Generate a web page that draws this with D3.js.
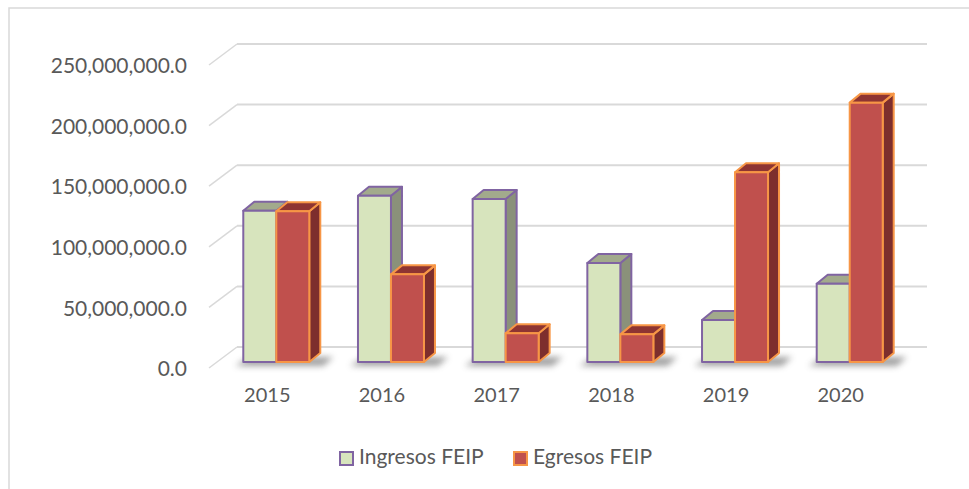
<!DOCTYPE html>
<html>
<head>
<meta charset="utf-8">
<script src="https://cdn.jsdelivr.net/npm/d3@7"></script>
<style>
  body { margin: 0; background: #fff; }
  text { font-family: Lato, "Open Sans", sans-serif; fill: #595959; }
</style>
</head>
<body>
<div id="chart"></div>
<script>
// Data
const years = ["2015", "2016", "2017", "2018", "2019", "2020"];
const seriesNames = ["Ingresos FEIP", "Egresos FEIP"];
const ingresos = [124800000, 137200000, 134500000, 81700000, 34700000, 64600000];
const egresos = [124300000, 72300000, 23700000, 22800000, 156500000, 214000000];
const yTicks = [0, 50000000, 100000000, 150000000, 200000000, 250000000];

const W = 969, H = 489;
// oblique 3d offsets
const depth = { dx: 11, dy: -9 };     // bar depth
const wall = { dx: 28, dy: -21 };     // side wall / floor depth
const baseFront = 362, baseBack = 347;

const colors = {
  "Ingresos FEIP": { face: "#D7E4BD", top: "#A2AA8C", side: "#8A917A", stroke: "#8064A2" },
  "Egresos FEIP": { face: "#C0504D", top: "#8E3432", side: "#7D2E2D", stroke: "#F79646" }
};

const svg = d3.select("#chart")
  .append("svg")
    .attr("width", W)
    .attr("height", H);

// chart border
svg.append("rect")
  .attr("x", 9).attr("y", 8)
  .attr("width", W + 10).attr("height", H + 10)
  .attr("fill", "none")
  .attr("stroke", "#D9D9D9")
  .attr("stroke-width", 1.5);

const defs = svg.append("defs");
defs.append("filter").attr("id", "blur")
  .attr("x", "-20%").attr("y", "-100%").attr("width", "140%").attr("height", "300%")
  .append("feGaussianBlur").attr("stdDeviation", 3);

// scales
const yPx = d3.scaleLinear().domain([0, 250000000]).range([0, 303]);

const x = d3.scaleBand()
  .domain(years)
  .range([194.6, 931.4])
  .padding(0.4245);

const xs = d3.scaleBand()
  .domain(seriesNames)
  .range([0, x.bandwidth()]);

// gridlines on back wall + side wall diagonals
const grid = svg.append("g");
yTicks.forEach(v => {
  const yb = baseBack - yPx(v);
  grid.append("line")
    .attr("x1", 209 + wall.dx).attr("y1", yb)
    .attr("x2", 927).attr("y2", yb)
    .attr("stroke", "#D9D9D9").attr("stroke-width", 2);
  grid.append("line")
    .attr("x1", 209).attr("y1", yb - wall.dy)
    .attr("x2", 209 + wall.dx).attr("y2", yb)
    .attr("stroke", "#D9D9D9").attr("stroke-width", 1.5);
});

// y axis labels
const yLab = d3.scaleLinear().domain([0, 250000000]).range([369, 66]);
const yAxis = svg.append("g")
  .attr("transform", "translate(190,0)")
  .call(d3.axisLeft(yLab).tickValues(yTicks).tickSize(0).tickPadding(3).tickFormat(d3.format(",.1f")));
yAxis.select(".domain").remove();
yAxis.selectAll("text")
  .style("font-size", "21px")
  .style("font-family", "Lato, 'Open Sans', sans-serif")
  .attr("fill", "#595959");

// x axis labels
const xAxis = svg.append("g")
  .attr("transform", "translate(-9,388)")
  .call(d3.axisBottom(x).tickSize(0).tickPadding(0));
xAxis.select(".domain").remove();
xAxis.selectAll("text")
  .style("font-size", "20px")
  .style("font-family", "Lato, 'Open Sans', sans-serif")
  .attr("fill", "#595959");

// shadows on floor
svg.append("g").selectAll("polygon")
  .data(years)
  .join("polygon")
  .attr("points", d => {
    const x0 = x(d) - 8, x1 = x(d) + x.bandwidth() + 24;
    return [[x0, 366], [x1 - 10, 366], [x1, 357], [x0 + 14, 357]].map(p => p.join(",")).join(" ");
  })
  .attr("fill", "#555")
  .attr("opacity", 0.55)
  .attr("filter", "url(#blur)");

// bars
const bars = [];
years.forEach((yr, i) => {
  bars.push({ year: yr, name: seriesNames[0], value: ingresos[i] });
  bars.push({ year: yr, name: seriesNames[1], value: egresos[i] });
});

const bw = xs.bandwidth();
const g = svg.append("g").selectAll("g")
  .data(bars)
  .join("g")
  .attr("stroke-linejoin", "round");

const pts = arr => arr.map(p => p.join(",")).join(" ");

g.each(function(d) {
  const el = d3.select(this);
  const c = colors[d.name];
  const x0 = x(d.year) + xs(d.name), x1 = x0 + bw;
  const yt = baseFront - yPx(d.value), yb = baseFront;
  // side face
  el.append("polygon")
    .attr("points", pts([[x1, yt], [x1 + depth.dx, yt + depth.dy], [x1 + depth.dx, yb + depth.dy], [x1, yb]]))
    .attr("fill", c.side).attr("stroke", c.stroke).attr("stroke-width", 2);
  // top face
  el.append("polygon")
    .attr("points", pts([[x0, yt], [x0 + depth.dx, yt + depth.dy], [x1 + depth.dx, yt + depth.dy], [x1, yt]]))
    .attr("fill", c.top).attr("stroke", c.stroke).attr("stroke-width", 2);
  // front face
  el.append("rect")
    .attr("x", x0).attr("y", yt)
    .attr("width", bw).attr("height", yb - yt)
    .attr("fill", c.face).attr("stroke", c.stroke).attr("stroke-width", 2);
});

// legend
const legend = svg.append("g").selectAll("g")
  .data(seriesNames)
  .join("g")
  .attr("transform", (d, i) => `translate(${i === 0 ? 340 : 514},452)`);
legend.append("rect")
  .attr("width", 13).attr("height", 13)
  .attr("fill", d => colors[d].face)
  .attr("stroke", d => colors[d].stroke)
  .attr("stroke-width", 2);
legend.append("text")
  .attr("x", 19).attr("y", 7)
  .attr("dominant-baseline", "middle")
  .style("font-size", "21px")
  .text(d => d);
</script>
</body>
</html>
